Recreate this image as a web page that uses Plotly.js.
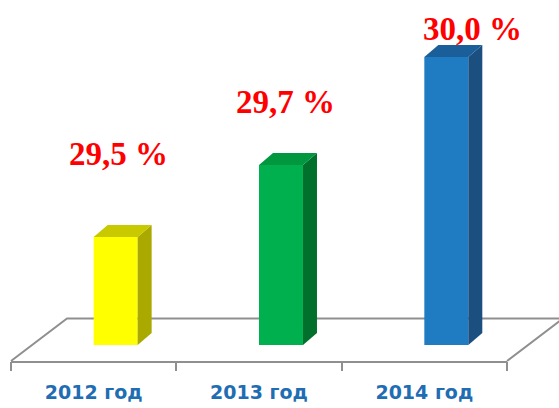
<!DOCTYPE html>
<html>
<head>
<meta charset="utf-8">
<script src="https://cdn.plot.ly/plotly-3.0.1.min.js"></script>
<style>html,body{margin:0;padding:0;background:#fff;}#chart{width:559px;height:408px;}</style>
</head>
<body>
<div id="chart"></div>
<script>
// ---- data ----
const categories = ['2012 год', '2013 год', '2014 год'];
const values = [29.5, 29.7, 30.0];
const valueLabels = ['29,5 %', '29,7 %', '30,0 %'];
const frontColors = ['#ffff00', '#00b04f', '#1f7bc2'];
const sideColors  = ['#a9a900', '#00702c', '#1a4f80'];
const topColors   = ['#c9c900', '#00973f', '#1b5f9a'];

// ---- geometry (axis units) ----
const BASE = 29.2;          // value at which bars start
const PX_X = 165.33;        // px per category
const PX_Y = 360;           // px per value unit
const W = 0.266;            // front face width
const DX = 14 / PX_X;       // depth offset x
const DY = 12 / PX_Y;       // depth offset y
const idx = categories.map((c, i) => i);

const traces = [];
// front faces
traces.push({
  type: 'bar', x: idx.map(i => i + W / 2), y: values.map(v => v - BASE), base: BASE,
  width: W, marker: {color: frontColors, line: {width: 0}}, hoverinfo: 'skip', showlegend: false
});
// side & top faces
idx.forEach(i => {
  const v = values[i], x1 = i + W;
  traces.push({
    type: 'scatter', mode: 'lines', fill: 'toself', fillcolor: sideColors[i],
    line: {width: 0, color: sideColors[i]}, hoverinfo: 'skip', showlegend: false,
    x: [x1, x1 + DX, x1 + DX, x1, x1], y: [BASE, BASE + DY, v + DY, v, BASE]
  });
  traces.push({
    type: 'scatter', mode: 'lines', fill: 'toself', fillcolor: topColors[i],
    line: {width: 0, color: topColors[i]}, hoverinfo: 'skip', showlegend: false,
    x: [i, i + W, i + W + DX, i + DX, i], y: [v, v, v + DY, v + DY, v]
  });
});
// invisible trace to activate xaxis2 (boundary ticks)
traces.push({type: 'scatter', x: [0], y: [BASE], xaxis: 'x2', mode: 'none', hoverinfo: 'skip', showlegend: false});

const mL = 11, mR = 52, mT = 20, mB = 47;
const plotH = 408 - mT - mB;
const yMin = BASE - 16 / PX_Y;
const yMax = yMin + plotH / PX_Y;
const xRange = [-0.5, 2.5];
const plotW = 559 - mL - mR;
const fx = 56 / plotW, fy = 42.5 / plotH;
const gray = '#8f8f8f';

const labelDX = [0.15, 0.16, 0.17];
const labelShiftX = [0, 0, 20];
const labelShiftY = [83, 63, 28];

const annotations = idx.map(i => ({
  x: i + labelDX[i], y: values[i], xref: 'x', yref: 'y', text: valueLabels[i],
  showarrow: false, xshift: labelShiftX[i], yshift: labelShiftY[i],
  font: {family: 'Liberation Serif, Times New Roman, serif', size: 33, color: '#ff0000', weight: 'bold'}
}));

const layout = {
  width: 559, height: 408,
  margin: {l: mL, r: mR, t: mT, b: mB},
  paper_bgcolor: '#ffffff', plot_bgcolor: 'rgba(0,0,0,0)',
  showlegend: false, barmode: 'overlay',
  xaxis: {
    range: xRange, tickvals: idx, ticktext: categories, ticks: '',
    showgrid: false, zeroline: false, showline: true, linecolor: gray, linewidth: 2,
    ticklabelstandoff: 13,
    tickfont: {family: 'DejaVu Sans, sans-serif', size: 19, color: '#1f6db3', weight: 'bold'},
    fixedrange: true
  },
  xaxis2: {
    overlaying: 'x', anchor: 'y', side: 'bottom', range: xRange,
    tickvals: [-0.5, 0.5, 1.5, 2.5], ticks: 'outside', ticklen: 9, tickwidth: 2, tickcolor: gray,
    showticklabels: false, showgrid: false, zeroline: false, showline: false
  },
  yaxis: {range: [yMin, yMax], visible: false, fixedrange: true},
  shapes: [{
    type: 'path', xref: 'paper', yref: 'paper', layer: 'below',
    path: `M 0 0 L ${fx} ${fy} L ${1 + fx} ${fy} L 1 0`,
    line: {color: gray, width: 2}
  }],
  annotations: annotations
};

Plotly.newPlot('chart', traces, layout, {displayModeBar: false, staticPlot: true});
</script>
</body>
</html>
